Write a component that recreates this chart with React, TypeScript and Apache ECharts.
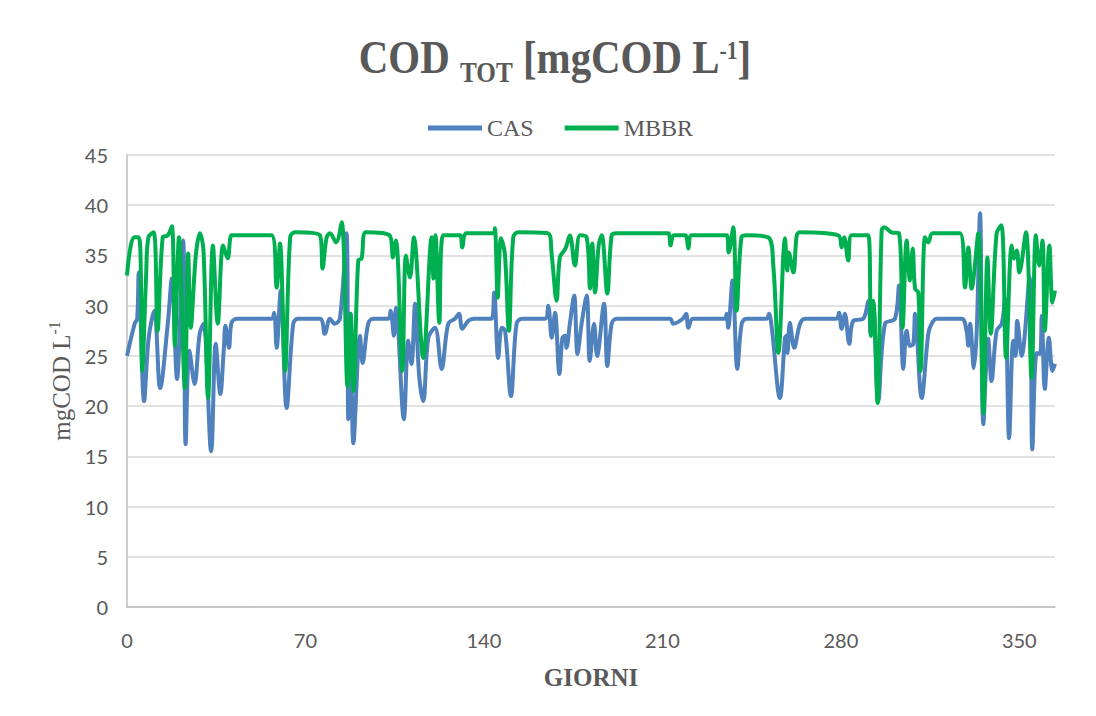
import React, { useEffect, useRef } from "react";
import * as echarts from "echarts";

// ---- data ----
const casDays = [0, 3, 4, 4.6, 6.7, 8.5, 10.7, 13, 16, 17.6, 19.6, 22, 23, 24.5, 26.5, 28.5, 30, 33, 34.8, 36.6, 38, 38.6, 40, 41, 43, 56.7, 57.7, 58.7, 60.3, 62.6, 65.2, 67, 75.7, 77.6, 79.6, 81.5, 83.5, 86.1, 86.8, 87.7, 88.8, 91.4, 92.4, 94.6, 96.6, 102.5, 103.4, 104.7, 105.5, 108.6, 110.3, 111.6, 113, 114.6, 116.2, 118.2, 120.8, 123.4, 126, 128.6, 130.2, 131.5, 133.9, 136, 143, 144, 145.6, 147, 148.3, 150.6, 152.8, 155, 164, 165.2, 166.6, 167.9, 169.6, 170.8, 171.8, 172.4, 173.7, 175.4, 176.7, 178.3, 180.3, 181.5, 183.2, 184.4, 187.1, 188.4, 190.1, 192.1, 213, 214.3, 218, 219.3, 220.2, 222, 234.5, 235.2, 235.8, 237.5, 239.4, 241.1, 243, 250.9, 251.8, 252.9, 256.1, 258.1, 258.7, 259.1, 260, 261.7, 264, 266, 278.3, 279.3, 280.3, 281.6, 283.3, 284.9, 288.8, 290.8, 291.7, 292.7, 294.7, 297.3, 301.2, 302.8, 304.5, 305.8, 307.1, 308.4, 309.1, 311.7, 314.3, 315.6, 317.6, 327.4, 329.3, 330, 330.7, 332.2, 333.3, 334.6, 335.9, 337.8, 339.1, 341.1, 343.1, 344.4, 346, 347.6, 348.5, 349.2, 350.9, 354, 355.1, 356.8, 358.1, 358.8, 360, 361.6, 363, 364];
const casValues = [25, 28.2, 28.7, 33.3, 20.5, 26.8, 29.5, 21.8, 28.2, 32.7, 22.7, 36.5, 16.2, 25.5, 22.2, 27.2, 28.2, 15.5, 26.2, 21.2, 25.8, 28, 25.8, 28.3, 28.7, 28.7, 29.3, 25.8, 31.5, 19.8, 28.2, 28.7, 28.7, 27.2, 28.7, 28.2, 28.7, 37.2, 18.7, 29.2, 16.3, 27, 24.3, 28.2, 28.7, 28.7, 29.5, 27, 29.8, 18.7, 26.5, 24.2, 30.2, 23, 20.5, 26.8, 27.8, 23.7, 28.2, 28.7, 29.2, 27.7, 28.5, 28.7, 28.7, 31.3, 24.8, 27.8, 27.5, 21, 28.2, 28.7, 28.7, 30, 26.8, 29.3, 23.2, 26.8, 27, 25.8, 28.2, 31, 25.2, 28.2, 31, 24.5, 28.2, 25, 30.2, 24, 28.2, 28.7, 28.7, 28.2, 28.7, 29.2, 27.8, 28.7, 28.7, 29.2, 27.8, 32.5, 23.7, 28.2, 28.7, 28.7, 29.2, 27.8, 20.8, 26.8, 27, 25.3, 28.3, 25.8, 28.2, 28.7, 28.7, 29.3, 27.7, 29.2, 26.2, 28.5, 28.7, 30.5, 27.2, 30.2, 20.5, 28.2, 28.7, 32, 23.7, 27.5, 26, 26.2, 29.2, 20.8, 27.2, 28.2, 28.7, 28.7, 27.5, 26, 28.2, 23.8, 27.5, 39.2, 18.2, 26.7, 22.5, 27.5, 28.2, 30.7, 16.8, 26.5, 25, 28.5, 25, 32.8, 15.7, 25.3, 25.2, 29, 21.7, 26.8, 23.5, 24.2];

const mbbrDays = [0, 1.5, 3, 4.5, 5.3, 6, 7.5, 8.4, 10.5, 12, 14, 16, 17.6, 18.8, 20.4, 22.7, 24, 25, 27, 28.6, 30, 31.8, 33.7, 35.6, 37.7, 39.5, 41, 43, 56.7, 58.7, 60, 62, 64, 65.9, 75.7, 76.7, 78.3, 79.6, 82, 84.2, 86.5, 87.7, 88.8, 90.7, 92, 93.7, 103, 104.3, 105.5, 108, 109.4, 111, 112.5, 116.2, 119.5, 120.2, 121, 122.5, 124, 130.6, 131.5, 133.2, 143.7, 144.3, 145.4, 146.7, 148.2, 149.8, 151.5, 153.5, 165.2, 166.6, 168.5, 169.8, 172, 173.7, 175.7, 177.7, 180.3, 181.6, 182.5, 183.6, 185, 186.2, 188.4, 190.1, 192, 212.3, 213.2, 214.5, 218.9, 220.2, 221.5, 235.2, 236, 237.8, 239.1, 241, 243, 251.5, 253.5, 255.5, 258.1, 259, 259.6, 261.4, 262.7, 264, 279, 280.3, 281.3, 282.9, 284.2, 290.8, 291.8, 292.7, 294.4, 296, 297, 299.9, 302.8, 304.2, 305.8, 307.1, 308.2, 309.1, 310.4, 311.3, 313, 314.3, 316, 326.7, 328.7, 330, 331.3, 333.9, 335.9, 337.5, 338.8, 341.1, 343, 344.8, 347, 347.9, 349, 350, 352.6, 354.8, 356.5, 357.8, 359.1, 360, 361.8, 363, 364];
const mbbrValues = [33, 36, 36.8, 36.8, 35, 23.5, 33, 36.8, 37.3, 27.5, 36.8, 37, 37.9, 26, 36.8, 21.8, 35.2, 27.8, 35, 37.2, 35.5, 20.8, 36, 28.2, 36, 34.7, 37, 37, 37, 31.8, 36.2, 23.5, 36.8, 37.3, 37, 33.7, 36.8, 37.2, 36.3, 38.3, 22, 29.2, 21.5, 34.5, 34.7, 37.3, 37, 34.8, 36.5, 23.5, 35, 32.8, 36.8, 24.8, 36.8, 32.7, 37, 28.3, 37, 37, 35.8, 37.2, 37.2, 37.7, 30.8, 36.7, 35.2, 27.5, 36.8, 37.3, 37.2, 35, 30.5, 34.8, 35.7, 37, 34, 37, 36.8, 31.7, 36.2, 31.3, 36, 37, 31.2, 37, 37.2, 37.2, 36, 37, 37, 35.7, 37, 37, 35.3, 37.8, 29.5, 36.8, 37, 36.8, 34, 25.3, 36.7, 33.5, 35.3, 33.3, 37, 37.3, 37, 35.8, 36.8, 34.5, 37, 37, 27, 30.5, 20.3, 37.5, 37.8, 37.3, 37.2, 27.8, 36.5, 32.5, 35.7, 31.7, 31.3, 23.5, 36.8, 36.3, 37.2, 37.2, 31.8, 35.8, 31.7, 37.2, 19.3, 34.8, 27.2, 37.2, 38, 24.8, 36, 34.7, 35.5, 33.3, 37.3, 22.8, 37, 34, 36.5, 27.5, 36, 30.3, 31.5];

const seriesNames = ["CAS", "MBBR"];
const seriesColors = ["#4F81BD", "#00B050"];
const xMin = 0;
const xMax = 364;
const xInterval = 70;
const yMin = 0;
const yMax = 45;
const yInterval = 5;

const GRAY = "#595959";
const SERIF = '"Liberation Serif", "Times New Roman", serif';
const SANS = 'Lato, "Open Sans", sans-serif';

function measure(text: string, font: string): number {
  const c = document.createElement("canvas");
  const ctx = c.getContext("2d");
  if (!ctx) return text.length * 20;
  ctx.font = font;
  return ctx.measureText(text).width;
}

function buildTitle() {
  const scale = 0.87;
  const baseline = 73;
  const parts = [
    { t: "COD", size: 47, dy: 0 },
    { t: " ", size: 47, dy: 0 },
    { t: "TOT", size: 29, dy: 9 },
    { t: " [mgCOD L", size: 47, dy: 0 },
    { t: "-1", size: 25, dy: -14 },
    { t: "]", size: 47, dy: 0 },
  ];
  const widths = parts.map((p) => measure(p.t, `bold ${p.size}px ${SERIF}`) * scale);
  const total = widths.reduce((a, b) => a + b, 0);
  let x = 555 - total / 2;
  const els: any[] = [];
  parts.forEach((p, i) => {
    const yCenter = baseline + p.dy - 0.3375 * p.size;
    els.push({
      type: "text",
      x,
      y: yCenter,
      scaleX: scale,
      style: {
        text: p.t,
        font: `bold ${p.size}px ${SERIF}`,
        fill: GRAY,
        textAlign: "left",
        textVerticalAlign: "middle",
      },
    });
    x += widths[i];
  });
  return els;
}

export default function App() {
  const ref = useRef<HTMLDivElement>(null);

  useEffect(() => {
    if (!ref.current) return;
    const chart = echarts.init(ref.current, undefined, { renderer: "svg" });
    const cas = casDays.map((d, i) => [d, casValues[i]]);
    const mbbr = mbbrDays.map((d, i) => [d, mbbrValues[i]]);

    chart.setOption({
      animation: false,
      backgroundColor: "#ffffff",
      graphic: buildTitle(),
      legend: {
        left: 423,
        top: 111,
        icon: "rect",
        itemWidth: 54,
        itemHeight: 5,
        itemGap: 31,
        data: seriesNames,
        textStyle: { color: GRAY, fontFamily: SERIF, fontSize: 24, padding: [0, 0, 0, 0] },
      },
      grid: { left: 127, right: 41, top: 155, bottom: 109, containLabel: false },
      xAxis: {
        type: "value",
        min: xMin,
        max: xMax,
        interval: xInterval,
        name: "GIORNI",
        nameLocation: "middle",
        nameGap: 58,
        nameTextStyle: { color: GRAY, fontFamily: SERIF, fontWeight: "bold", fontSize: 25 },
        axisLine: { show: true, lineStyle: { color: "#BFBFBF", width: 1.5 } },
        axisTick: { show: false },
        splitLine: { show: false },
        axisLabel: {
          color: GRAY,
          fontFamily: SANS,
          fontSize: 20,
          margin: 23,
          showMaxLabel: false,
        },
      },
      yAxis: {
        type: "value",
        min: yMin,
        max: yMax,
        interval: yInterval,
        name: "{a|mgCOD L}{s|-1}",
        nameLocation: "middle",
        nameGap: 50,
        nameTextStyle: {
          color: GRAY,
          fontFamily: SERIF,
          fontSize: 25,
          rich: {
            a: { color: GRAY, fontFamily: SERIF, fontSize: 25, lineHeight: 29 },
            s: { color: GRAY, fontFamily: SERIF, fontSize: 16, lineHeight: 16, verticalAlign: "top" },
          },
        },
        axisLine: { show: true, lineStyle: { color: "#BFBFBF", width: 1.5 } },
        axisTick: { show: false },
        splitLine: { show: true, lineStyle: { color: "#D9D9D9", width: 1.5 } },
        axisLabel: { color: GRAY, fontFamily: SANS, fontSize: 20, margin: 19 },
      },
      series: [
        {
          name: seriesNames[0],
          type: "line",
          data: cas,
          showSymbol: false,
          smooth: 0.35,
          lineStyle: { color: seriesColors[0], width: 4 },
          itemStyle: { color: seriesColors[0] },
          z: 2,
        },
        {
          name: seriesNames[1],
          type: "line",
          data: mbbr,
          showSymbol: false,
          smooth: 0.35,
          lineStyle: { color: seriesColors[1], width: 4 },
          itemStyle: { color: seriesColors[1] },
          z: 3,
        },
      ],
    });
    return () => chart.dispose();
  }, []);

  return (
    <div
      ref={ref}
      style={{ position: "fixed", left: 0, top: 0, width: 1096, height: 716, background: "#fff" }}
    />
  );
}
